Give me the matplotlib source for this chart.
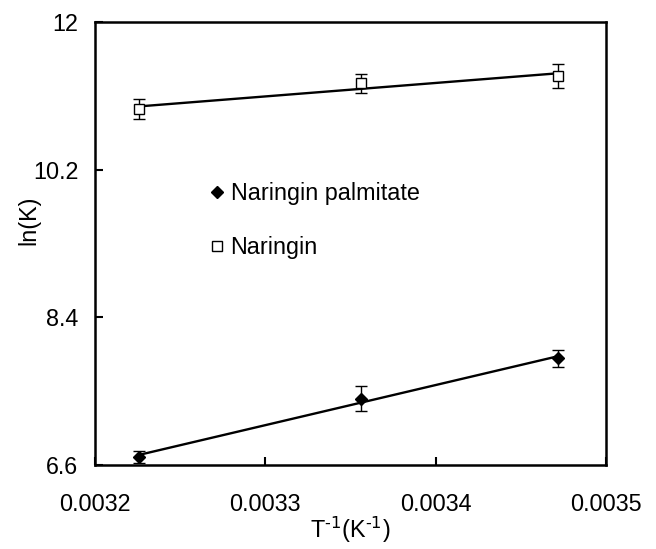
import numpy as np
import matplotlib.pyplot as plt

plt.rcParams['font.family'] = ['Liberation Sans', 'DejaVu Sans']

# inverse temperature (1/K) at 310, 298 and 288 K
inv_T = [0.003226, 0.003356, 0.003472]

# ln(K) and its error for each compound
lnK_palm = [6.70, 7.41, 7.90]
err_palm = [0.07, 0.15, 0.10]
lnK_nar = [10.94, 11.25, 11.34]
err_nar = [0.12, 0.11, 0.15]

fig = plt.figure(figsize=(6.56, 5.49), dpi=100)
ax = fig.add_axes([0.1448, 0.153, 0.779, 0.807])

fs = 16.8

# linear fits drawn across the measured range
xs = np.array([inv_T[0], inv_T[-1]])
p = np.polyfit(inv_T, lnK_palm, 1)
ax.plot(xs, np.polyval(p, xs), color='black', lw=1.7, zorder=2)
p = np.polyfit(inv_T, lnK_nar, 1)
ax.plot(xs, np.polyval(p, xs), color='black', lw=1.7, zorder=2)

ax.errorbar(inv_T, lnK_palm, yerr=err_palm, fmt='D', color='black', ms=6,
            ecolor='black', elinewidth=1, capsize=4.6, capthick=1,
            label='Naringin palmitate', zorder=3)
ax.errorbar(inv_T, lnK_nar, yerr=err_nar, fmt='s', mfc='white', mec='black',
            mew=1, ms=6.5, ecolor='black', elinewidth=1, capsize=4.6, capthick=1,
            label='Naringin', zorder=3)

ax.set_xlim(0.0032, 0.0035)
ax.set_ylim(6.6, 12)
ax.set_xticks([0.0032, 0.0033, 0.0034, 0.0035])
ax.set_xticklabels(['0.0032', '0.0033', '0.0034', '0.0035'])
ax.set_yticks([6.6, 8.4, 10.2, 12])
ax.set_yticklabels(['6.6', '8.4', '10.2', '12'])

for s in ax.spines.values():
    s.set_linewidth(1.8)
ax.tick_params(axis='both', direction='in', length=6, width=1.5, labelsize=fs)
ax.tick_params(axis='x', pad=20)
ax.tick_params(axis='y', pad=12)

ax.set_xlabel(r'T$^{\text{-1}}$(K$^{\text{-1}}$)', fontsize=fs, labelpad=-1)
ax.set_ylabel('ln(K)', fontsize=fs)
ax.yaxis.set_label_coords(-0.106, 0.553)

h, l = ax.get_legend_handles_labels()
h = [hh[0] for hh in h]
ax.legend(h, l, loc='upper left', bbox_to_anchor=(0.183, 0.686), frameon=False,
          fontsize=fs, handlelength=0.6, handletextpad=0.3, labelspacing=1.32)

fig.savefig('out.png', dpi=100)
